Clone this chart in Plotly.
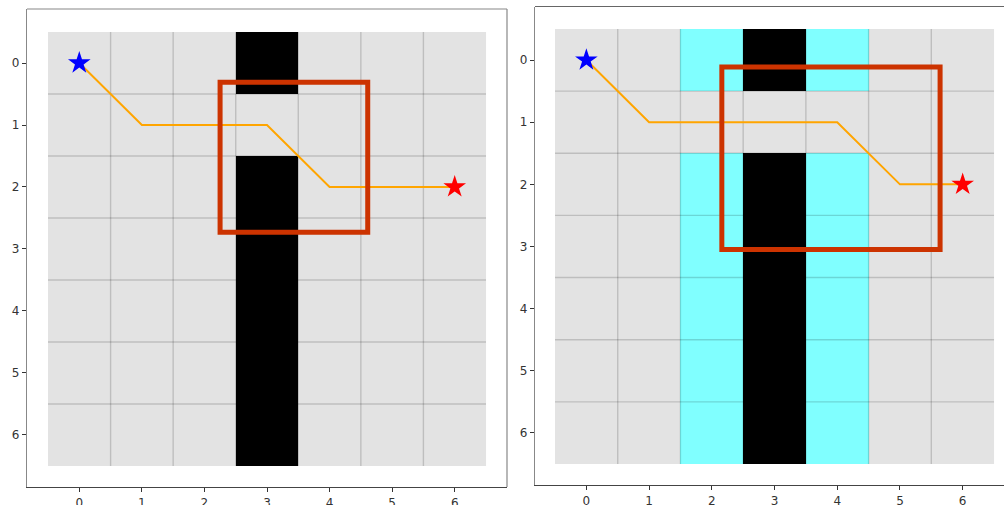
import plotly.graph_objects as go

# ---------------- data ----------------
cells = [0, 1, 2, 3, 4, 5, 6]
tick_vals = [0, 1, 2, 3, 4, 5, 6]
tick_text = ["0", "1", "2", "3", "4", "5", "6"]

# 0 = free, 1 = obstacle
obstacles_left = [
    [0, 0, 0, 1, 0, 0, 0],
    [0, 0, 0, 0, 0, 0, 0],
    [0, 0, 0, 1, 0, 0, 0],
    [0, 0, 0, 1, 0, 0, 0],
    [0, 0, 0, 1, 0, 0, 0],
    [0, 0, 0, 1, 0, 0, 0],
    [0, 0, 0, 1, 0, 0, 0],
]
obstacles_right = obstacles_left
# 1 = inflated (cyan) cell
inflated_right = [
    [0, 0, 1, 0, 1, 0, 0],
    [0, 0, 0, 0, 0, 0, 0],
    [0, 0, 1, 0, 1, 0, 0],
    [0, 0, 1, 0, 1, 0, 0],
    [0, 0, 1, 0, 1, 0, 0],
    [0, 0, 1, 0, 1, 0, 0],
    [0, 0, 1, 0, 1, 0, 0],
]

path_left_x = [0, 1, 3, 4, 6]
path_left_y = [0, 1, 1, 2, 2]
path_right_x = [0, 1, 4, 5, 6]
path_right_y = [0, 1, 1, 2, 2]

start = (0, 0)
goal = (6, 2)

box_left = (2.25, 0.31, 4.61, 2.73)    # x0, y0, x1, y1
box_right = (2.16, 0.11, 5.64, 3.05)

# ---------------- figure ----------------
W, H = 1004, 505
fig = go.Figure()

GRAY = "#e3e3e3"
GRID = "rgba(0,0,0,0.16)"


def add_panel(obst, infl, px, py, box, xref, yref):
    z = []
    for r, row in enumerate(obst):
        zr = []
        for c, v in enumerate(row):
            if v == 1:
                zr.append(1)
            elif infl is not None and infl[r][c] == 1:
                zr.append(2)
            else:
                zr.append(0)
        z.append(zr)
    fig.add_trace(go.Heatmap(
        z=z, x=cells, y=cells, zmin=0, zmax=2,
        colorscale=[[0, GRAY], [0.333, GRAY], [0.334, "#000000"], [0.666, "#000000"],
                    [0.667, "#80ffff"], [1, "#80ffff"]],
        showscale=False, hoverinfo="skip", xaxis=xref, yaxis=yref))
    gx, gy = [], []
    for k in range(6):
        v = k + 0.5
        gx += [-0.5, 6.5, None, v, v, None]
        gy += [v, v, None, -0.5, 6.5, None]
    fig.add_trace(go.Scatter(x=gx, y=gy, mode="lines",
                             line=dict(color=GRID, width=1.4),
                             hoverinfo="skip", showlegend=False,
                             xaxis=xref, yaxis=yref))
    if infl is not None:
        zo = [[1 if v == 1 else None for v in row] for row in infl]
        fig.add_trace(go.Heatmap(
            z=zo, x=cells, y=cells, zmin=0, zmax=1,
            colorscale=[[0, "#80ffff"], [1, "#80ffff"]], opacity=0.6,
            showscale=False, hoverinfo="skip", xaxis=xref, yaxis=yref))
    fig.add_trace(go.Scatter(x=px, y=py, mode="lines",
                             line=dict(color="#ffa500", width=2),
                             hoverinfo="skip", showlegend=False,
                             xaxis=xref, yaxis=yref))
    fig.add_trace(go.Scatter(x=[start[0]], y=[start[1]], mode="markers",
                             marker=dict(symbol="star", size=17, color="#0000ff",
                                         line=dict(width=0)),
                             hoverinfo="skip", showlegend=False,
                             xaxis=xref, yaxis=yref))
    fig.add_trace(go.Scatter(x=[goal[0]], y=[goal[1]], mode="markers",
                             marker=dict(symbol="star", size=17, color="#ff0000",
                                         line=dict(width=0)),
                             hoverinfo="skip", showlegend=False,
                             xaxis=xref, yaxis=yref))
    fig.add_shape(type="rect", xref=xref, yref=yref,
                  x0=box[0], y0=box[1], x1=box[2], y1=box[3],
                  line=dict(color="#cc3300", width=5), fillcolor="rgba(0,0,0,0)")


add_panel(obstacles_left, None, path_left_x, path_left_y, box_left, "x", "y")
add_panel(obstacles_right, inflated_right, path_right_x, path_right_y, box_right, "x2", "y2")

axis_common = dict(
    showgrid=False, zeroline=False, showline=True, automargin=False,
    ticks="outside", ticklen=4, tickwidth=1, tickcolor="#333",
    tickvals=tick_vals, ticktext=tick_text,
    tickfont=dict(family="DejaVu Sans", size=12, color="#333333"),
)

# screen-pixel geometry
L_x0, L_x1, L_yt, L_yb = 27, 507, 9, 487
R_x0, R_x1, R_yt, R_yb = 535, 1004, 6.5, 485


def px2x(p):
    return p / W


def px2y(p):
    return (H - p) / H


fig.update_layout(
    width=W, height=H, margin=dict(l=0, r=0, t=0, b=0, autoexpand=False),
    paper_bgcolor="white", plot_bgcolor="white", showlegend=False,
    xaxis=dict(domain=[px2x(L_x0), px2x(L_x1)], range=[-0.836, 6.836],
               linecolor="#444", linewidth=1.2, anchor="y", **axis_common),
    yaxis=dict(domain=[px2y(L_yb), px2y(L_yt)], range=[6.839, -0.871],
               linecolor="#888", linewidth=1.2, anchor="x", **axis_common),
    xaxis2=dict(domain=[px2x(R_x0), px2x(R_x1)], range=[-0.819, 6.659],
                linecolor="#444", linewidth=1.2, anchor="y2", **axis_common),
    yaxis2=dict(domain=[px2y(R_yb), px2y(R_yt)], range=[6.838, -0.862],
                linecolor="#888", linewidth=1.2, anchor="x2", **axis_common),
)

fig.add_shape(type="line", xref="paper", yref="paper",
              x0=px2x(L_x0), x1=px2x(L_x1), y0=px2y(L_yt), y1=px2y(L_yt),
              line=dict(color="#888", width=1.2))
fig.add_shape(type="line", xref="paper", yref="paper",
              x0=px2x(L_x1), x1=px2x(L_x1), y0=px2y(L_yb), y1=px2y(L_yt),
              line=dict(color="#888", width=1.2))
fig.add_shape(type="line", xref="paper", yref="paper",
              x0=px2x(R_x0), x1=px2x(R_x1), y0=px2y(R_yt), y1=px2y(R_yt),
              line=dict(color="#666", width=1.2))

fig.write_html("out.html",
               config={"displayModeBar": False},
               post_script="document.body.style.margin='0px';"
                           "document.body.style.overflow='hidden';")
